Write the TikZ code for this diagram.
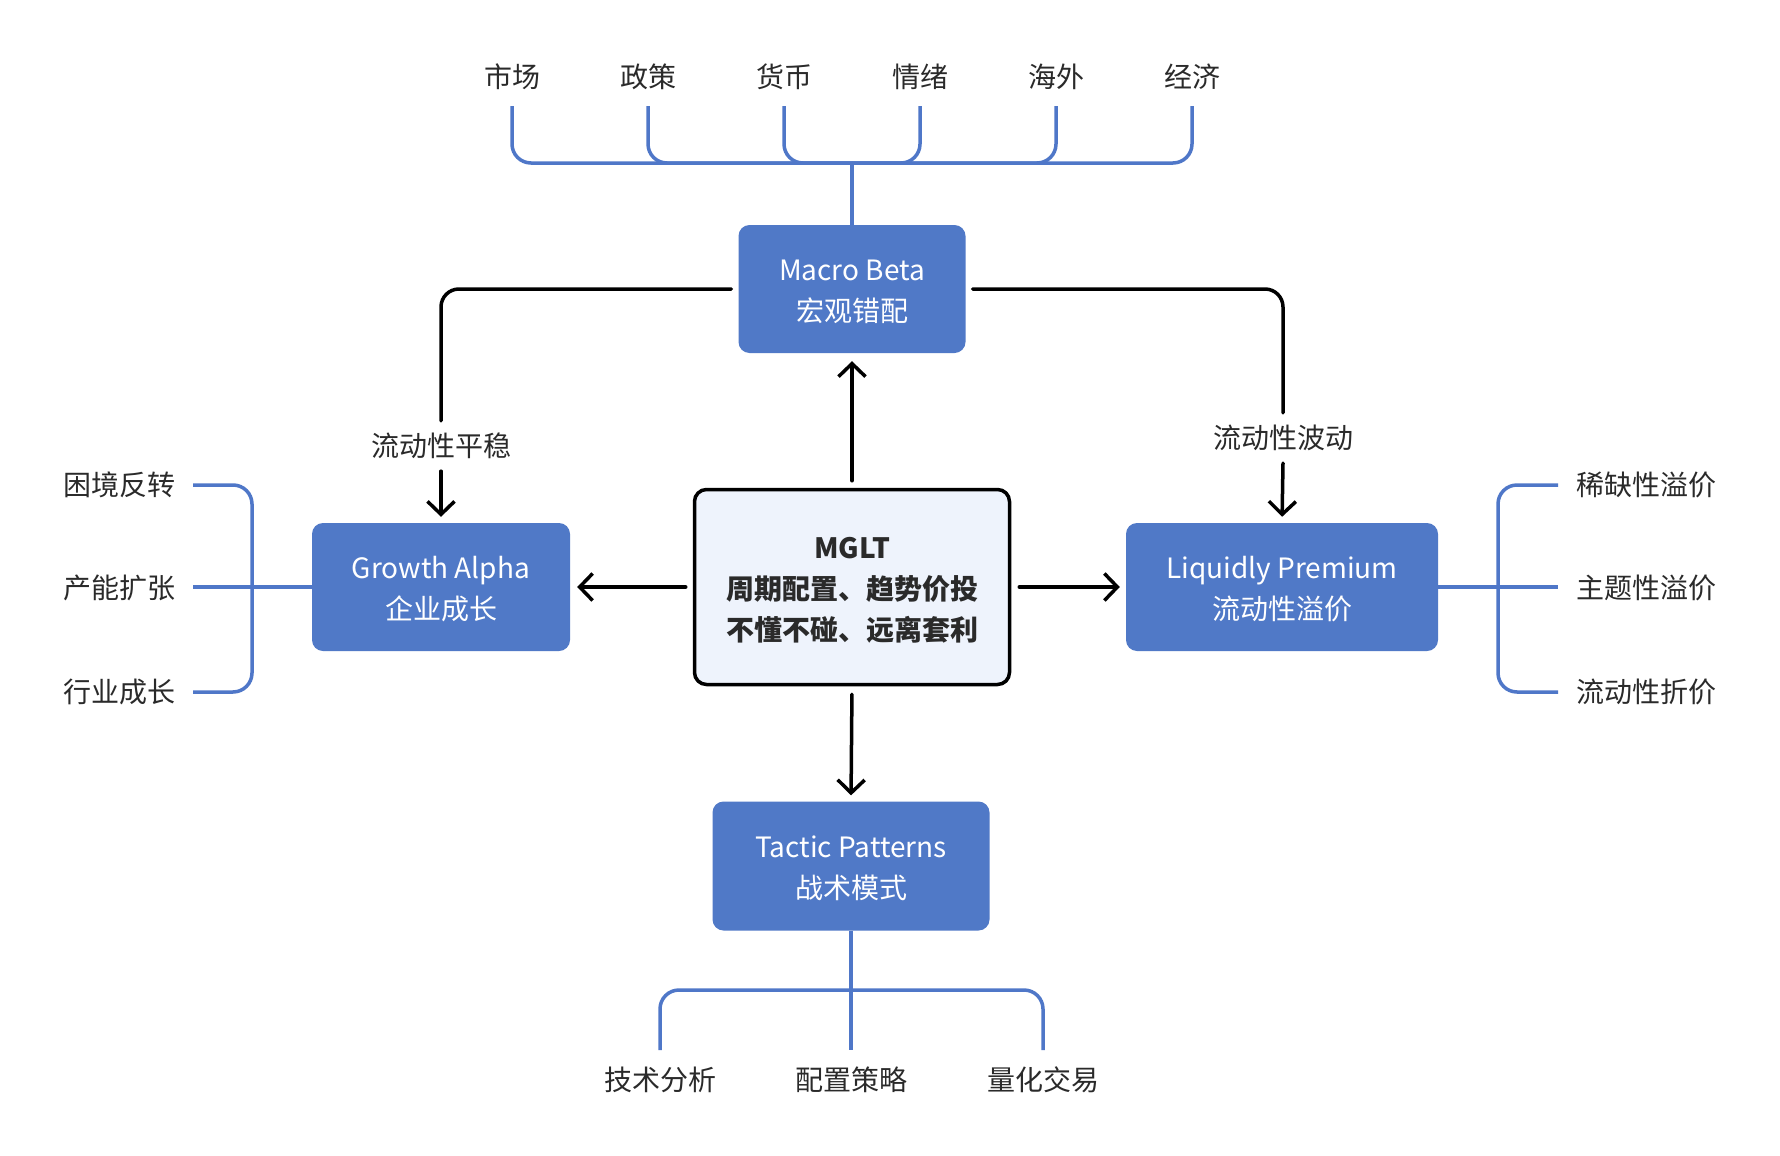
\documentclass[tikz,border=0pt]{standalone}
\usepackage{fontspec}
\setmainfont{Noto Sans CJK SC}
\usetikzlibrary{arrows.meta,calc}
\definecolor{boxblue}{HTML}{5079C7}
\definecolor{lineblue}{HTML}{4F77C8}
\definecolor{lightbg}{HTML}{EEF3FC}
\definecolor{txt}{HTML}{2A2A2A}
\newcommand\lowtext[2]{\raisebox{-#1}[\height][\depth]{\begin{tabular}{@{}c@{}}#2\end{tabular}}}
\begin{document}
\begin{tikzpicture}[x=1pt,y=-1pt,
  bluebox/.style={fill=boxblue, rounded corners=11pt, text=white,
    font=\fontsize{28}{41}\selectfont, minimum height=128pt, inner sep=0pt},
  corebox/.style={draw=black, line width=3.5pt, fill=lightbg, rounded corners=12pt,
    text=txt, font=\fontsize{28}{41}\selectfont\bfseries,
    minimum width=315pt, minimum height=195pt, inner sep=0pt},
  lbl/.style={text=txt, font=\fontsize{28}{32}\selectfont, inner sep=0pt},
  flowlbl/.style={text=txt, font=\fontsize{28}{32}\selectfont, inner sep=12pt},
  bline/.style={draw=lineblue, line width=3.5pt},
  conn/.style={draw=black, line width=3.5pt, line cap=round},
  arr/.style={conn, -{Straight Barb[length=13pt,width=27pt,line width=3.5pt]}},
]
\useasboundingbox (0,0) rectangle (1780,1156);
\fill[white] (0,0) rectangle (1780,1156);

% main boxes
\node[bluebox, minimum width=227pt] (mb) at (852,289) {\lowtext{4pt}{Macro Beta\\宏观错配}};
\node[bluebox, minimum width=258pt] (ga) at (441,587) {\lowtext{4pt}{Growth Alpha\\企业成长}};
\node[bluebox, minimum width=312pt] (lp) at (1282,587) {\lowtext{4pt}{Liquidly Premium\\流动性溢价}};
\node[bluebox, minimum width=277pt, minimum height=129pt] (tp) at (851,866) {\lowtext{4pt}{Tactic Patterns\\战术模式}};
\node[corebox] (mg) at (852,587) {\lowtext{4.5pt}{MGLT\\周期配置、趋势价投\\不懂不碰、远离套利}};

% top labels
\node[lbl] (t1) at (512,77) {市场};
\node[lbl] (t2) at (648,77) {政策};
\node[lbl] (t3) at (784,77) {货币};
\node[lbl] (t4) at (920,77) {情绪};
\node[lbl] (t5) at (1056,77) {海外};
\node[lbl] (t6) at (1192,77) {经济};
\coordinate (topbar) at (0,163);
\coordinate (toptop) at (0,106);
\coordinate (hubA) at (mb.north |- topbar);
\draw[bline] (mb.north) -- (hubA);
\foreach \i in {1,...,6}{
  \draw[bline, rounded corners=19pt] (hubA) -| (t\i |- toptop);
}

% left bracket
\node[lbl, anchor=east] (g1) at (176,485) {困境反转};
\node[lbl, anchor=east] (g2) at (176,588) {产能扩张};
\node[lbl, anchor=east] (g3) at (176,692) {行业成长};
\coordinate (gx) at (252,0);
\draw[bline, rounded corners=19pt] ([xshift=17pt]g1.east) -| (gx |- ga.west) |- ([xshift=17pt]g3.east);
\draw[bline] ([xshift=17pt]g2.east |- ga.west) -- (ga.west);

% right bracket
\node[lbl, anchor=west] (r1) at (1576,485) {稀缺性溢价};
\node[lbl, anchor=west] (r2) at (1576,588) {主题性溢价};
\node[lbl, anchor=west] (r3) at (1576,692) {流动性折价};
\coordinate (rx) at (1498,0);
\draw[bline, rounded corners=19pt] ([xshift=-18pt]r1.west) -| (rx |- lp.east) |- ([xshift=-18pt]r3.west);
\draw[bline] (lp.east) -- ([xshift=-18pt]r2.west |- lp.east);

% bottom
\node[lbl] (b1) at (660,1080) {技术分析};
\node[lbl] (b2) at (851,1080) {配置策略};
\node[lbl] (b3) at (1043,1080) {量化交易};
\coordinate (botbar) at (0,990);
\coordinate (botend) at (0,1050);
\coordinate (hubB) at (tp.south |- botbar);
\draw[bline] (tp.south) -- (tp.south |- botend);
\draw[bline, rounded corners=19pt] (hubB) -| (b1 |- botend);
\draw[bline, rounded corners=19pt] (hubB) -| (b3 |- botend);

% flow labels
\node[flowlbl] (fl) at (441,446) {流动性平稳};
\node[flowlbl] (fr) at (1283,438) {流动性波动};
\draw[conn, rounded corners=18pt] ([xshift=-7pt]mb.west) -| (fl.north);
\draw[conn, rounded corners=18pt] ([xshift=7pt]mb.east) -| (fr.north);
\draw[arr, shorten >=6pt] (fl.south) -- (ga.north);
\draw[arr, shorten >=6pt] (fr.south) -- (lp.north);

% arrows from MGLT
\draw[arr, shorten <=7pt, shorten >=8pt] (mg.north) -- (mb.south);
\draw[arr, shorten <=7pt, shorten >=7pt] (mg.west) -- (ga.east);
\draw[arr, shorten <=8pt, shorten >=6pt] (mg.east) -- (lp.west);
\draw[arr, shorten <=8pt, shorten >=6pt] (mg.south) -- (tp.north);
\end{tikzpicture}
\end{document}
